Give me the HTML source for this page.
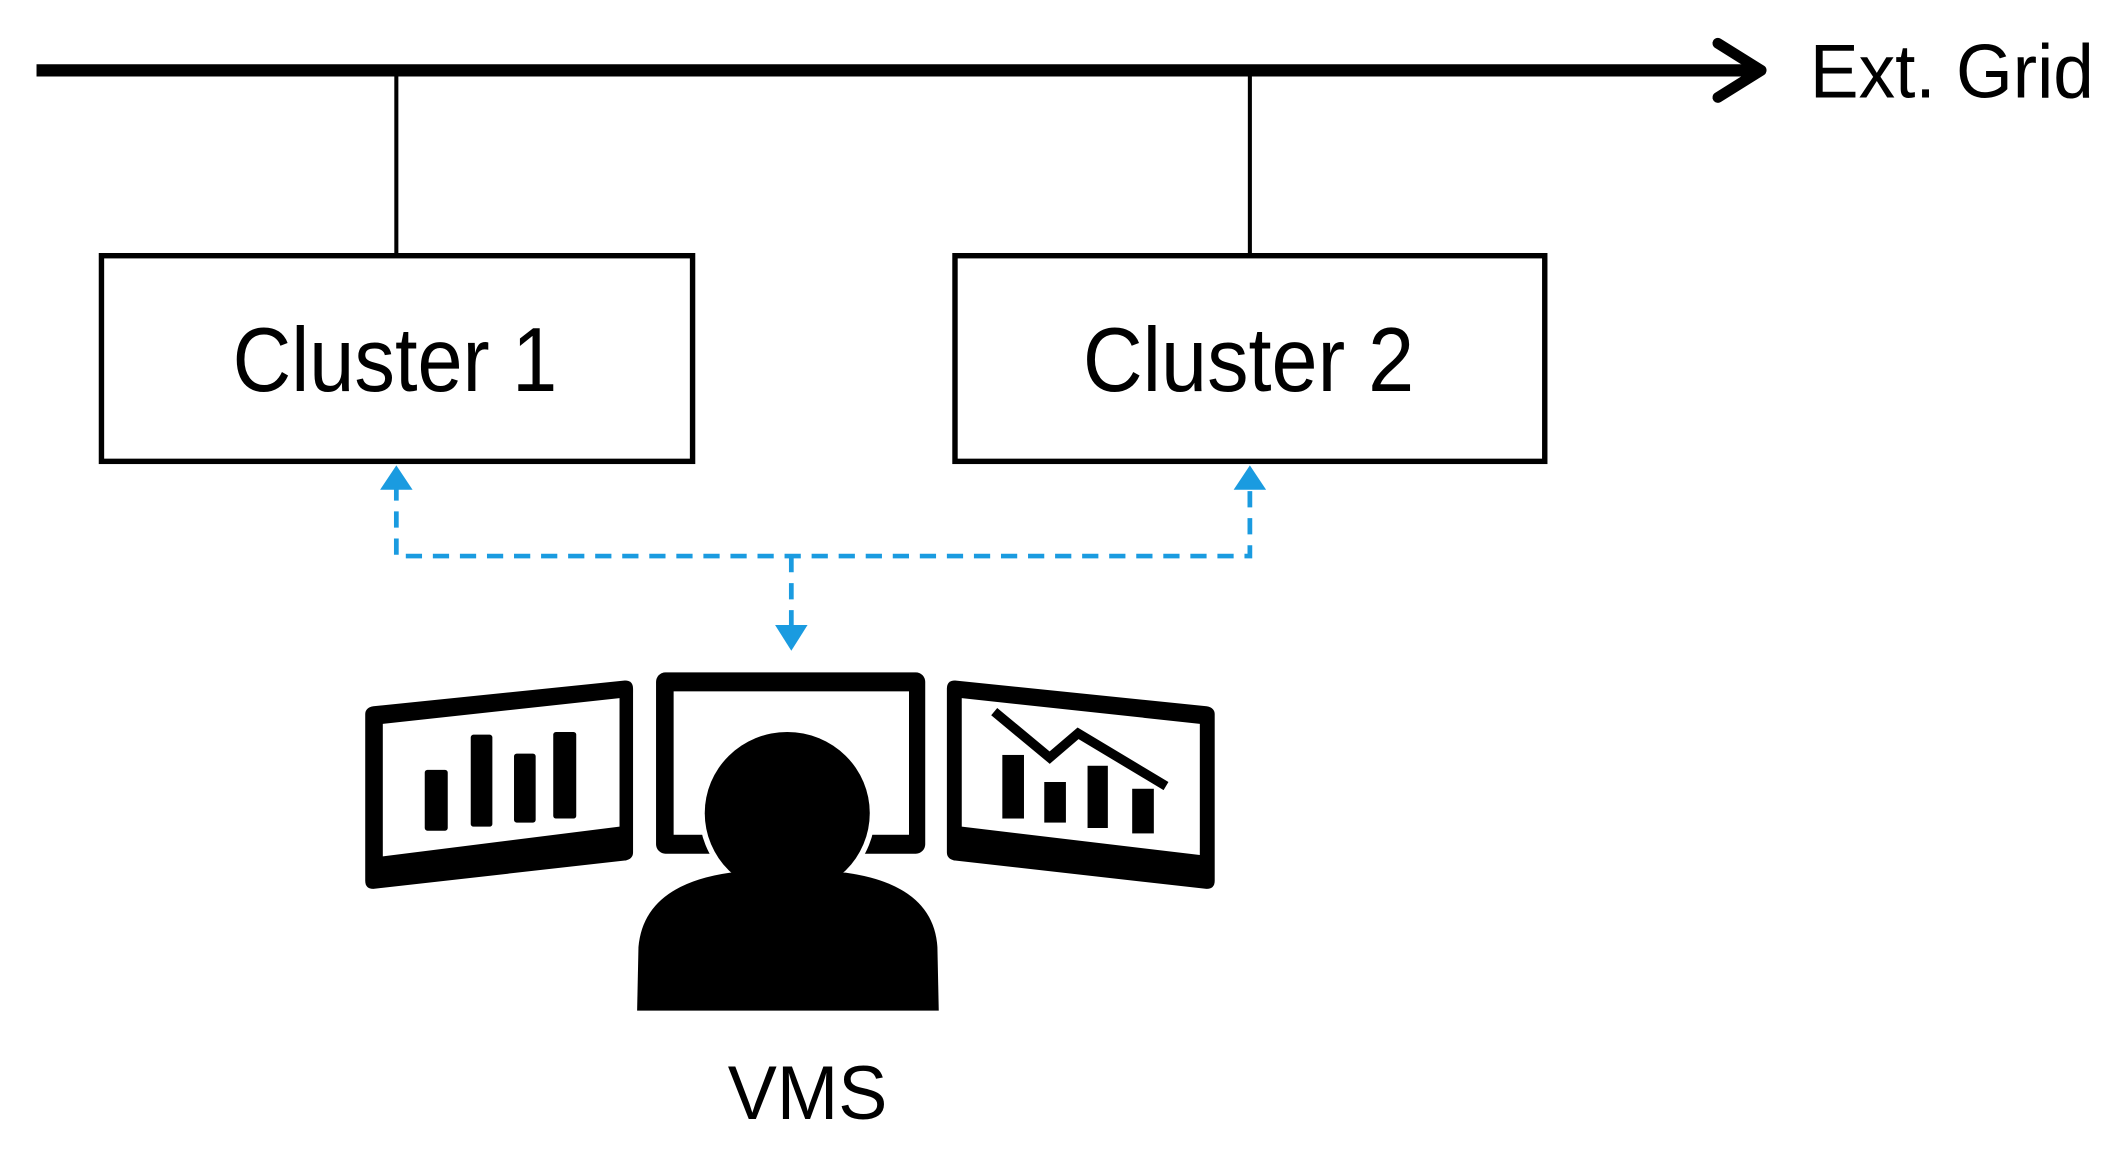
<!DOCTYPE html>
<html><head><meta charset="utf-8"><style>
html,body{margin:0;padding:0;background:#fff;}
svg{display:block;}
</style></head><body>
<svg width="2121" height="1150" viewBox="0 0 1568 850" preserveAspectRatio="none" xmlns="http://www.w3.org/2000/svg">
<line x1="27" y1="52" x2="1300" y2="52" stroke="#000" stroke-width="9"/>
<polyline points="1270,32 1302,52 1270,72" fill="none" stroke="#000" stroke-width="8" stroke-linecap="round" stroke-linejoin="round"/>
<text x="1338" y="72" font-family="Liberation Sans, sans-serif" font-size="56" textLength="210" lengthAdjust="spacingAndGlyphs">Ext. Grid</text>
<line x1="293" y1="52" x2="293" y2="188" stroke="#000" stroke-width="3"/>
<line x1="924" y1="52" x2="924" y2="188" stroke="#000" stroke-width="3"/>
<rect x="75" y="189" width="437" height="152" fill="#fff" stroke="#000" stroke-width="4"/>
<rect x="706" y="189" width="436" height="152" fill="#fff" stroke="#000" stroke-width="4"/>
<text x="292" y="289" text-anchor="middle" font-family="Liberation Sans, sans-serif" font-size="67" textLength="240" lengthAdjust="spacingAndGlyphs">Cluster 1</text>
<text x="923" y="289" text-anchor="middle" font-family="Liberation Sans, sans-serif" font-size="67" textLength="245" lengthAdjust="spacingAndGlyphs">Cluster 2</text>
<g stroke="#1a9be0" stroke-width="3.5" fill="none" stroke-dasharray="12,8">
<polyline points="293,358 293,411 924,411 924,358"/>
<line x1="585" y1="411" x2="585" y2="466"/>
</g>
<g fill="#1a9be0">
<polygon points="293,344 281,362 305,362"/>
<polygon points="924,344 912,362 936,362"/>
<polygon points="585,481 573,462 597,462"/>
</g>
<path d="M276,522 L462,503 Q468,503 468,509 L468,630 Q468,635 462,636 L276,657 Q270,657 270,651 L270,528 Q270,523 276,522 Z" fill="#000"/>
<polygon points="283,535 458,516 458,611 283,633" fill="#fff"/>
<g fill="#000">
<rect x="314" y="569" width="17" height="45" rx="2"/>
<rect x="348" y="543" width="16" height="68" rx="2"/>
<rect x="380" y="557" width="16" height="51" rx="2"/>
<rect x="409" y="541" width="17" height="64" rx="2"/>
</g>
<rect x="485" y="497" width="199" height="134" rx="7" fill="#000"/>
<rect x="498" y="511" width="174" height="106" fill="#fff"/>
<path d="M706,503 L892,522 Q898,523 898,528 L898,651 Q898,657 892,657 L706,636 Q700,635 700,630 L700,509 Q700,503 706,503 Z" fill="#000"/>
<polygon points="711,516 887,535 887,632 711,611" fill="#fff"/>
<g fill="#000">
<rect x="741" y="558" width="16" height="47"/>
<rect x="772" y="578" width="16" height="30"/>
<rect x="804" y="566" width="15" height="46"/>
<rect x="837" y="583" width="16" height="33"/>
</g>
<polyline points="735,526 776,560 797,542 862,581" fill="none" stroke="#000" stroke-width="7" stroke-linejoin="miter"/>
<path d="M469,747 L470,700 Q474,652 540,643 L625,643 Q692,652 695,700 L696,747 Z" fill="#000" stroke="#fff" stroke-width="5"/>
<ellipse cx="582" cy="601" rx="62" ry="61" fill="#000" stroke="#fff" stroke-width="6"/>
<path d="M471,747 L472,700 Q476,654 540,645 L625,645 Q690,654 693,700 L694,747 Z" fill="#000"/>
<ellipse cx="582" cy="601" rx="61" ry="60" fill="#000"/>
<text x="597" y="827" text-anchor="middle" font-family="Liberation Sans, sans-serif" font-size="56" textLength="118" lengthAdjust="spacingAndGlyphs">VMS</text>
</svg>
</body></html>
